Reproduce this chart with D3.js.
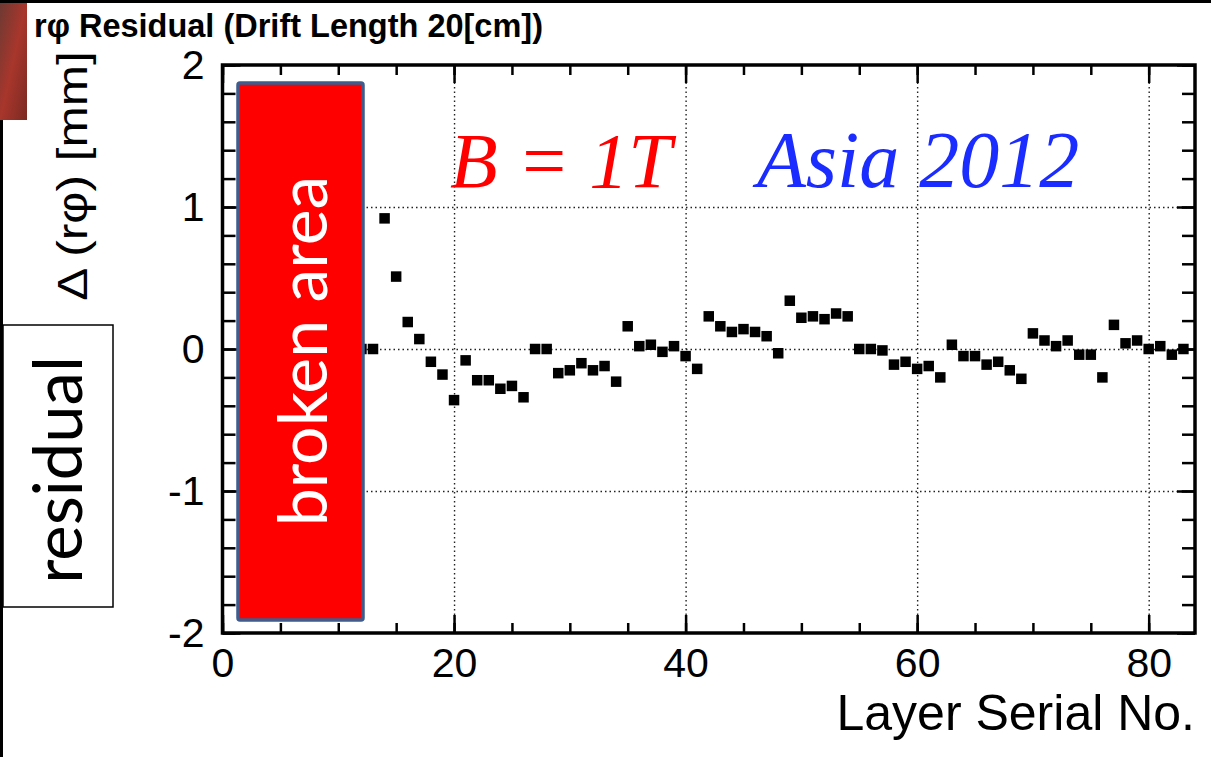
<!DOCTYPE html>
<html>
<head>
<meta charset="utf-8">
<script src="https://cdn.jsdelivr.net/npm/d3@7"></script>
<style>
  body { margin: 0; background: #fff; }
  svg { display: block; font-family: "Liberation Sans", Arial, sans-serif; }
  .grid line { stroke: #222; stroke-width: 1.4; stroke-dasharray: 1.5 3; }
  .grid path { display: none; }
  .ticks path { display: none; }
  .ticks line { stroke: #000; stroke-width: 2.5; }
  .labels path, .labels line { display: none; }
  .labels text { font-size: 41px; fill: #000; }
</style>
</head>
<body>
<svg id="chart"></svg>
<script>
// data: residual per layer (layers 1-11 hidden behind the "broken area" box)
const layers = [12, 13, 14, 15, 16, 17, 18, 19, 20, 21, 22, 23, 24, 25, 26, 27, 28, 29, 30, 31,
  32, 33, 34, 35, 36, 37, 38, 39, 40, 41, 42, 43, 44, 45, 46, 47, 48, 49, 50, 51,
  52, 53, 54, 55, 56, 57, 58, 59, 60, 61, 62, 63, 64, 65, 66, 67, 68, 69, 70, 71,
  72, 73, 74, 75, 76, 77, 78, 79, 80, 81, 82, 83];
const residuals = [0.00, 0.00, 0.92, 0.51, 0.19, 0.07, -0.09, -0.18, -0.36, -0.08, -0.22, -0.22, -0.28, -0.26, -0.34, 0.00, 0.00, -0.17, -0.15, -0.10,
  -0.15, -0.12, -0.23, 0.16, 0.02, 0.03, -0.02, 0.02, -0.05, -0.14, 0.23, 0.16, 0.12, 0.14, 0.12, 0.09, -0.03, 0.34, 0.22, 0.23,
  0.21, 0.25, 0.23, 0.00, 0.00, -0.01, -0.11, -0.09, -0.14, -0.12, -0.20, 0.03, -0.05, -0.05, -0.11, -0.09, -0.15, -0.21, 0.11, 0.06,
  0.02, 0.06, -0.04, -0.04, -0.20, 0.17, 0.04, 0.06, 0.00, 0.02, -0.04, 0.00];

const xMajor = [0, 20, 40, 60, 80];
const xMinor = [0, 5, 10, 15, 20, 25, 30, 35, 40, 45, 50, 55, 60, 65, 70, 75, 80];
const yMajor = [-2, -1, 0, 1, 2];
const yMinor = [-2, -1.8, -1.6, -1.4, -1.2, -1, -0.8, -0.6, -0.4, -0.2, 0, 0.2, 0.4, 0.6, 0.8, 1, 1.2, 1.4, 1.6, 1.8, 2];
const gridX = [20, 40, 60, 80];
const gridY = [-1, 0, 1];

const width = 1211;
const height = 757;
const plot = { left: 222.5, right: 1195, top: 65, bottom: 633 };

const svg = d3.select('svg#chart').attr('width', width).attr('height', height);

// screenshot leftovers around the picture
svg.append('rect').attr('x', 0).attr('y', 0).attr('width', width).attr('height', height).attr('fill', '#fff');
const grad = svg.append('defs').append('linearGradient').attr('id', 'photo')
  .attr('x1', 0).attr('y1', 0).attr('x2', 1).attr('y2', 1);
grad.append('stop').attr('offset', 0).attr('stop-color', '#6b3a33');
grad.append('stop').attr('offset', 0.5).attr('stop-color', '#a8362c');
grad.append('stop').attr('offset', 1).attr('stop-color', '#7a2a22');
svg.append('rect').attr('x', 0).attr('y', 0).attr('width', 27).attr('height', 120).attr('fill', 'url(#photo)');
svg.append('rect').attr('x', 0).attr('y', 0).attr('width', width).attr('height', 3).attr('fill', '#000');
svg.append('rect').attr('x', 0).attr('y', 120).attr('width', 3).attr('height', height - 120).attr('fill', '#000');

const x = d3.scaleLinear().domain([0, 84]).range([plot.left, plot.right]);
const y = d3.scaleLinear().domain([-2, 2]).range([plot.bottom, plot.top]);
const pw = plot.right - plot.left;
const ph = plot.bottom - plot.top;

// dotted grid
svg.append('g').attr('class', 'grid').attr('transform', 'translate(0,' + plot.bottom + ')')
  .call(d3.axisBottom(x).tickValues(gridX).tickSize(-ph).tickFormat(''));
svg.append('g').attr('class', 'grid').attr('transform', 'translate(' + plot.left + ',0)')
  .call(d3.axisLeft(y).tickValues(gridY).tickSize(-pw).tickFormat(''));

// inward ticks on all four sides
function ticks(axis, vals, size, tx, ty) {
  svg.append('g').attr('class', 'ticks').attr('transform', 'translate(' + tx + ',' + ty + ')')
    .call(axis.tickValues(vals).tickSize(-size).tickFormat(''));
}
ticks(d3.axisBottom(x), xMinor, 10, 0, plot.bottom);
ticks(d3.axisBottom(x), xMajor, 18, 0, plot.bottom);
ticks(d3.axisTop(x), xMinor, 10, 0, plot.top);
ticks(d3.axisTop(x), xMajor, 18, 0, plot.top);
ticks(d3.axisLeft(y), yMinor, 13, plot.left, 0);
ticks(d3.axisLeft(y), yMajor, 18, plot.left, 0);
ticks(d3.axisRight(y), yMinor, 13, plot.right, 0);
ticks(d3.axisRight(y), yMajor, 18, plot.right, 0);

// tick labels
svg.append('g').attr('class', 'labels').attr('transform', 'translate(0,' + plot.bottom + ')')
  .call(d3.axisBottom(x).tickValues(xMajor).tickSize(0).tickPadding(15).tickFormat(d => String(d)));
svg.append('g').attr('class', 'labels').attr('transform', 'translate(' + plot.left + ',0)')
  .call(d3.axisLeft(y).tickValues(yMajor).tickSize(0).tickPadding(18).tickFormat(d => String(d)));

// frame
svg.append('rect').attr('x', plot.left).attr('y', plot.top).attr('width', pw).attr('height', ph)
  .attr('fill', 'none').attr('stroke', '#000').attr('stroke-width', 3.5);

// points
const ms = 10.5;
svg.append('g').selectAll('rect').data(layers).enter().append('rect')
  .attr('x', (d, i) => x(d) - ms / 2)
  .attr('y', (d, i) => y(residuals[i]) - ms / 2)
  .attr('width', ms).attr('height', ms)
  .attr('fill', '#000');

// broken area box
svg.append('rect').attr('x', 238).attr('y', 83).attr('width', 125).attr('height', 537).attr('rx', 2)
  .attr('fill', '#ff0000').attr('stroke', '#3e5c8c').attr('stroke-width', 3.5);
svg.append('text').attr('transform', 'translate(327,351) rotate(-90)')
  .attr('text-anchor', 'middle').attr('fill', '#fff')
  .style('font-family', 'Lato, "Open Sans", sans-serif').style('font-size', '68px')
  .text('broken area');

// residual label box
svg.append('rect').attr('x', 3).attr('y', 325).attr('width', 110).attr('height', 282)
  .attr('fill', '#fff').attr('stroke', '#000').attr('stroke-width', 1.5);
svg.append('text').attr('transform', 'translate(82,470) rotate(-90)')
  .attr('text-anchor', 'middle').attr('fill', '#000')
  .style('font-family', 'Lato, "Open Sans", sans-serif').style('font-size', '67px')
  .text('residual');

// titles
svg.append('text').attr('x', 34).attr('y', 37)
  .style('font-size', '32.5px').style('font-weight', 'bold')
  .text('rφ Residual (Drift Length 20[cm])');
svg.append('text').attr('transform', 'translate(87,176) rotate(-90) scale(1.18,1)')
  .attr('text-anchor', 'middle').style('font-size', '42px')
  .text('Δ (rφ) [mm]');
svg.append('text').attr('x', 1195).attr('y', 730).attr('text-anchor', 'end')
  .style('font-size', '50px')
  .text('Layer Serial No.');

// annotations
svg.append('text').attr('x', 450).attr('y', 187)
  .style('font-family', '"Liberation Serif", "Times New Roman", serif').style('font-style', 'italic')
  .style('font-size', '78px').attr('fill', '#ff0000')
  .text('B = 1T');
svg.append('text').attr('x', 757).attr('y', 187)
  .style('font-family', '"Liberation Serif", "Times New Roman", serif').style('font-style', 'italic')
  .style('font-size', '80px').attr('fill', '#1a2cff')
  .text('Asia 2012');
</script>
</body>
</html>
